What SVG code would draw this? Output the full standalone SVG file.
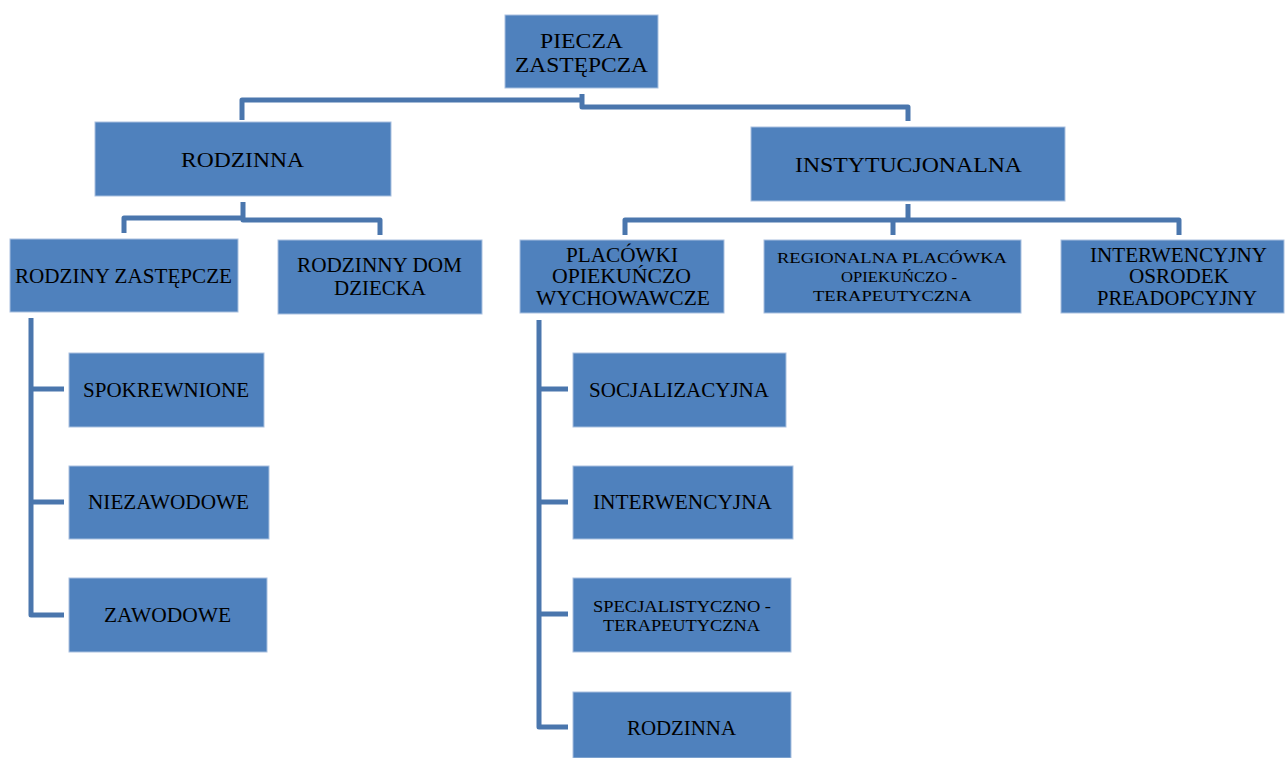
<svg xmlns="http://www.w3.org/2000/svg" width="1285" height="758" viewBox="0 0 1285 758">
<style>
.box{fill:#4F81BD;stroke:#A9C0DF;stroke-width:1}
.t{font-family:"Liberation Serif","Times New Roman",serif;fill:#000;text-anchor:middle}
.conn{fill:none;stroke:#4A76AD;stroke-width:5;stroke-linejoin:round}
</style>
<rect width="1285" height="758" fill="#fff"/>
<g id="connectors">
<path class="conn" d="M242,120 V100 H582 M582,94 V107 H908 V121"/>
<path class="conn" d="M124,233 V218 H243 M243,202 V220 H380 V235"/>
<path class="conn" d="M908,204 V220 M625,235 V220 H1179 V235 M893,220 V235"/>
<path class="conn" d="M31,318 V615 H64 M31,389 H64 M31,502 H64"/>
<path class="conn" d="M539,320 V727 H568 M539,389 H568 M539,502 H568 M539,614 H568"/>
</g>
<g id="n-root"><rect class="box" x="505" y="15" width="153" height="73"/>
<text class="t" x="581.5" y="48" font-size="22" textLength="83" lengthAdjust="spacingAndGlyphs">PIECZA</text>
<text class="t" x="581.5" y="72" font-size="22" textLength="133" lengthAdjust="spacingAndGlyphs">ZASTĘPCZA</text></g>
<g id="n-rodzinna"><rect class="box" x="95" y="122" width="296" height="74"/>
<text class="t" x="242.5" y="167" font-size="22" textLength="123" lengthAdjust="spacingAndGlyphs">RODZINNA</text></g>
<g id="n-inst"><rect class="box" x="751" y="127" width="314" height="74"/>
<text class="t" x="908.5" y="172" font-size="22" textLength="227" lengthAdjust="spacingAndGlyphs">INSTYTUCJONALNA</text></g>
<g id="n-rz"><rect class="box" x="10" y="239" width="228" height="73"/>
<text class="t" x="123.5" y="283" font-size="21" textLength="217" lengthAdjust="spacingAndGlyphs">RODZINY ZASTĘPCZE</text></g>
<g id="n-rdd"><rect class="box" x="278" y="240" width="204" height="74"/>
<text class="t" x="379.5" y="272" font-size="20" textLength="165" lengthAdjust="spacingAndGlyphs">RODZINNY DOM</text>
<text class="t" x="380" y="295" font-size="20" textLength="92" lengthAdjust="spacingAndGlyphs">DZIECKA</text></g>
<g id="n-pow"><rect class="box" x="520" y="240" width="204" height="73"/>
<text class="t" x="622" y="262" font-size="20" textLength="112" lengthAdjust="spacingAndGlyphs">PLACÓWKI</text>
<text class="t" x="621.5" y="283" font-size="20" textLength="139" lengthAdjust="spacingAndGlyphs">OPIEKUŃCZO</text>
<text class="t" x="623" y="305" font-size="20" textLength="174" lengthAdjust="spacingAndGlyphs">WYCHOWAWCZE</text></g>
<g id="n-rpot"><rect class="box" x="764" y="240" width="257" height="73"/>
<text class="t" x="892" y="263" font-size="15" textLength="230" lengthAdjust="spacingAndGlyphs">REGIONALNA PLACÓWKA</text>
<text class="t" x="899" y="282" font-size="15" textLength="116" lengthAdjust="spacingAndGlyphs">OPIEKUŃCZO -</text>
<text class="t" x="892.5" y="301" font-size="15" textLength="159" lengthAdjust="spacingAndGlyphs">TERAPEUTYCZNA</text></g>
<g id="n-iop"><rect class="box" x="1061" y="240" width="223" height="73"/>
<text class="t" x="1178.5" y="262" font-size="20" textLength="177" lengthAdjust="spacingAndGlyphs">INTERWENCYJNY</text>
<text class="t" x="1179" y="283" font-size="20" textLength="100" lengthAdjust="spacingAndGlyphs">OSRODEK</text>
<text class="t" x="1177" y="305" font-size="20" textLength="160" lengthAdjust="spacingAndGlyphs">PREADOPCYJNY</text></g>
<g id="n-spok"><rect class="box" x="69" y="353" width="195" height="74"/>
<text class="t" x="166" y="397" font-size="20" textLength="166" lengthAdjust="spacingAndGlyphs">SPOKREWNIONE</text></g>
<g id="n-niez"><rect class="box" x="69" y="466" width="200" height="73"/>
<text class="t" x="168.5" y="509" font-size="20" textLength="161" lengthAdjust="spacingAndGlyphs">NIEZAWODOWE</text></g>
<g id="n-zaw"><rect class="box" x="69" y="578" width="198" height="74"/>
<text class="t" x="167.5" y="622" font-size="20" textLength="127" lengthAdjust="spacingAndGlyphs">ZAWODOWE</text></g>
<g id="n-soc"><rect class="box" x="573" y="353" width="213" height="74"/>
<text class="t" x="679" y="397" font-size="20" textLength="180" lengthAdjust="spacingAndGlyphs">SOCJALIZACYJNA</text></g>
<g id="n-int"><rect class="box" x="573" y="466" width="220" height="73"/>
<text class="t" x="682.5" y="509" font-size="20" textLength="179" lengthAdjust="spacingAndGlyphs">INTERWENCYJNA</text></g>
<g id="n-spec"><rect class="box" x="573" y="578" width="218" height="74"/>
<text class="t" x="682" y="612" font-size="17" textLength="178" lengthAdjust="spacingAndGlyphs">SPECJALISTYCZNO -</text>
<text class="t" x="681.5" y="631" font-size="17" textLength="157" lengthAdjust="spacingAndGlyphs">TERAPEUTYCZNA</text></g>
<g id="n-rodz2"><rect class="box" x="573" y="692" width="218" height="66"/>
<text class="t" x="681.5" y="735" font-size="20" textLength="109" lengthAdjust="spacingAndGlyphs">RODZINNA</text></g>
</svg>
